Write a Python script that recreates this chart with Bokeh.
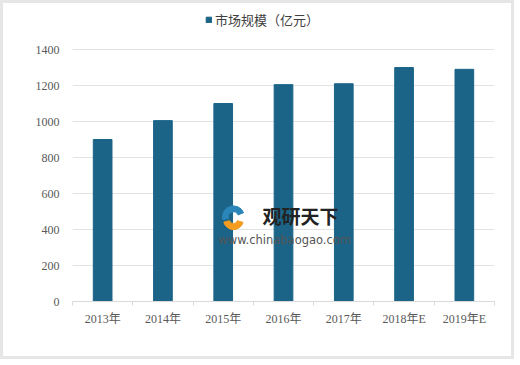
from bokeh.plotting import figure
from bokeh.models import FixedTicker, Legend, LegendItem, ColumnDataSource, Range1d
from bokeh.core.properties import value
from bokeh.embed import file_html
from bokeh.resources import INLINE

categories = ["2013年", "2014年", "2015年", "2016年", "2017年", "2018年E", "2019年E"]
market_size = [900, 1005, 1100, 1205, 1210, 1300, 1290]
y_ticks = [0, 200, 400, 600, 800, 1000, 1200, 1400]
series_name = "市场规模（亿元）"

xs = [i + 0.5 for i in range(len(categories))]
src = ColumnDataSource(dict(x=xs, top=market_size))

FONT = "'Liberation Serif', 'Noto Sans CJK SC'"

# the frame extends above the 1400 gridline so the legend can sit inside it
p = figure(width=514, height=359, output_backend="svg", toolbar_location=None,
           x_range=Range1d(0, len(categories)), y_range=Range1d(0, 1628),
           min_border_left=69, min_border_right=23, min_border_top=5, min_border_bottom=61)
p.styles = {"border": "3px solid #e6e6e6"}
p.outline_line_color = None
p.background_fill_color = "white"
p.border_fill_color = "white"

bars = p.vbar(x="x", top="top", width=0.31, bottom=0, source=src, color="#1b6488")

# y axis
p.yaxis.ticker = FixedTicker(ticks=y_ticks)
p.yaxis.axis_line_color = None
p.yaxis.major_tick_line_color = None
p.yaxis.minor_tick_line_color = None
p.yaxis.major_label_text_font = FONT
p.yaxis.major_label_text_font_size = "12px"
p.yaxis.major_label_text_color = "#595959"
p.yaxis.major_label_standoff = 7

# x axis
p.xaxis.ticker = FixedTicker(ticks=xs, minor_ticks=list(range(len(categories) + 1)))
p.xaxis.major_label_overrides = {x: c for x, c in zip(xs, categories)}
p.xaxis.axis_line_color = "#d9d9d9"
p.xaxis.major_tick_line_color = None
p.xaxis.minor_tick_line_color = "#d9d9d9"
p.xaxis.minor_tick_in = 0
p.xaxis.minor_tick_out = 4
p.xaxis.major_label_text_font = FONT
p.xaxis.major_label_text_font_size = "12px"
p.xaxis.major_label_text_color = "#595959"
p.xaxis.major_label_standoff = 4

p.xgrid.grid_line_color = None
p.ygrid.ticker = FixedTicker(ticks=y_ticks)
p.ygrid.grid_line_color = "#e3e3e3"

# watermark
p.annular_wedge(x=[2.67], y=[470], inner_radius=5, outer_radius=11,
                inner_radius_units="screen", outer_radius_units="screen",
                start_angle=0.4, end_angle=3.4, color="#2a85b8")
p.annular_wedge(x=[2.67], y=[455], inner_radius=4, outer_radius=10,
                inner_radius_units="screen", outer_radius_units="screen",
                start_angle=3.4, end_angle=6.0, color="#f39c1f")
p.text(x=[3.78], y=[478], text=["观研天下"], text_align="center", text_baseline="middle",
       text_font=value("Noto Sans CJK SC"), text_font_size="19px", text_font_style="bold",
       text_color="#222222")
p.text(x=[3.52], y=[344], text=["www.chinabaogao.com"], text_align="center",
       text_baseline="middle", text_font=value("DejaVu Sans"), text_font_size="11.5px",
       text_color="#555555")

legend = Legend(items=[LegendItem(label=series_name, renderers=[bars])],
                orientation="horizontal", location=(133, 272),
                glyph_width=7, glyph_height=7, label_standoff=3,
                label_text_font="Noto Sans CJK SC", label_text_font_size="13px",
                label_text_color="#404040", border_line_color=None,
                background_fill_alpha=0, padding=2, margin=0)
p.add_layout(legend)

open("out.html", "w").write(file_html(p, INLINE))
